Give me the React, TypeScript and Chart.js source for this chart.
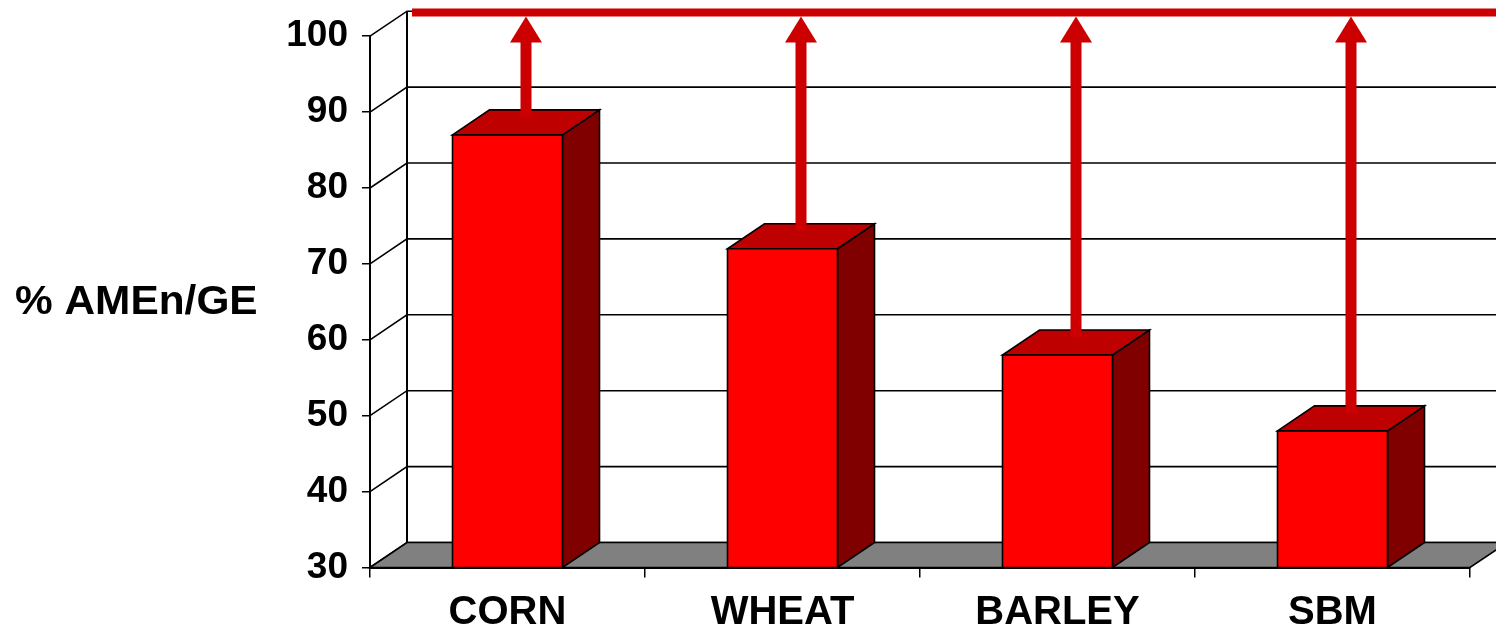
import React, { useEffect, useRef } from 'react';
import { Chart, registerables } from 'chart.js';

Chart.register(...registerables);

const categories = ['CORN', 'WHEAT', 'BARLEY', 'SBM'];
const amenPercent = [87, 72, 58, 48];
const axisMin = 30;
const axisMax = 100;
const axisStep = 10;
const targetPercent = 100;
const yAxisTitle = '% AMEn/GE';

const DX = 37;
const DY = -25;
const FONT = '"Liberation Sans", Arial, Helvetica, sans-serif';

const bars3d = {
  id: 'bars3d',
  beforeDatasetsDraw(chart: any) {
    const { ctx, chartArea: ca, scales } = chart;
    const ys = scales.y;
    ctx.save();
    ctx.strokeStyle = '#000';
    ctx.lineWidth = 1.6;
    for (let v = axisMin; v <= axisMax; v += axisStep) {
      const py = ys.getPixelForValue(v);
      ctx.beginPath();
      ctx.moveTo(ca.left, py);
      ctx.lineTo(ca.left + DX, py + DY);
      ctx.lineTo(chart.width + 60, py + DY);
      ctx.stroke();
    }
    ctx.beginPath();
    ctx.moveTo(ca.left + DX, ys.getPixelForValue(axisMin) + DY);
    ctx.lineTo(ca.left + DX, ys.getPixelForValue(axisMax) + DY);
    ctx.lineWidth = 2;
    ctx.stroke();
    const fb = ys.getPixelForValue(axisMin);
    ctx.beginPath();
    ctx.moveTo(ca.left, fb);
    ctx.lineTo(ca.right, fb);
    ctx.lineTo(ca.right + DX, fb + DY);
    ctx.lineTo(ca.left + DX, fb + DY);
    ctx.closePath();
    ctx.fillStyle = '#808080';
    ctx.fill();
    ctx.lineWidth = 1.6;
    ctx.stroke();
    ctx.restore();
  },
  afterDatasetsDraw(chart: any) {
    const { ctx, chartArea: ca, scales } = chart;
    const ys = scales.y;
    const meta = chart.getDatasetMeta(0);
    const redY = ys.getPixelForValue(targetPercent) + DY + 1.3;
    const floorY = ys.getPixelForValue(axisMin);
    ctx.save();
    ctx.lineJoin = 'miter';
    meta.data.forEach((el: any) => {
      const { x, y, width } = el.getProps(['x', 'y', 'width'], true);
      const base = floorY;
      const x0 = x - width / 2;
      const x1 = x + width / 2;
      ctx.lineWidth = 1.6;
      ctx.strokeStyle = '#000';
      ctx.beginPath();
      ctx.moveTo(x1, y);
      ctx.lineTo(x1 + DX, y + DY);
      ctx.lineTo(x1 + DX, base + DY);
      ctx.lineTo(x1, base);
      ctx.closePath();
      ctx.fillStyle = '#800000';
      ctx.fill();
      ctx.stroke();
      ctx.beginPath();
      ctx.moveTo(x0, y);
      ctx.lineTo(x1, y);
      ctx.lineTo(x1 + DX, y + DY);
      ctx.lineTo(x0 + DX, y + DY);
      ctx.closePath();
      ctx.fillStyle = '#BF0000';
      ctx.fill();
      ctx.stroke();
      ctx.beginPath();
      ctx.rect(x0, y, width, base - y);
      ctx.fillStyle = '#FF0000';
      ctx.fill();
      ctx.stroke();
      const ax = x + DX / 2;
      const tipY = redY + 4;
      const headBase = tipY + 26;
      ctx.fillStyle = '#CC0000';
      ctx.fillRect(ax - 5.5, headBase - 1, 11, y + DY / 2 - 4 - headBase);
      ctx.beginPath();
      ctx.moveTo(ax, tipY);
      ctx.lineTo(ax + 16, headBase);
      ctx.lineTo(ax - 16, headBase);
      ctx.closePath();
      ctx.fill();
    });
    ctx.beginPath();
    ctx.moveTo(ca.left + DX + 5, redY);
    ctx.lineTo(chart.width + 10, redY);
    ctx.strokeStyle = '#CC0000';
    ctx.lineWidth = 8;
    ctx.stroke();
    ctx.restore();
  },
  afterDraw(chart: any) {
    const { ctx } = chart;
    ctx.save();
    ctx.font = `bold 40px ${FONT}`;
    ctx.fillStyle = '#000';
    ctx.textBaseline = 'middle';
    ctx.textAlign = 'left';
    ctx.translate(15, 303);
    ctx.scale(1.06, 1);
    ctx.fillText(yAxisTitle, 0, 0);
    ctx.restore();
  },
};

export default function App() {
  const ref = useRef<HTMLCanvasElement | null>(null);
  useEffect(() => {
    if (!ref.current) return;
    const chart = new Chart(ref.current, {
      type: 'bar',
      data: {
        labels: categories,
        datasets: [
          {
            data: amenPercent,
            backgroundColor: 'rgba(0,0,0,0)',
            borderWidth: 0,
            barPercentage: 0.4,
            categoryPercentage: 1.0,
          },
        ],
      },
      options: {
        animation: false,
        responsive: false,
        events: [],
        layout: { padding: { top: 34.5, right: 26, left: 0, bottom: 0 } },
        plugins: { legend: { display: false }, tooltip: { enabled: false } },
        scales: {
          x: {
            afterFit: (s: any) => {
              s.height = 62.5;
            },
            grid: {
              offset: true,
              drawOnChartArea: false,
              tickLength: 10,
              color: '#000',
              lineWidth: 1.5,
            },
            border: { color: '#000', width: 2 },
            ticks: {
              color: '#000',
              font: { family: FONT, size: 40, weight: 'bold' },
              padding: 11,
            },
          },
          y: {
            min: axisMin,
            max: axisMax,
            afterFit: (s: any) => {
              s.width = 370;
            },
            grid: {
              drawOnChartArea: false,
              tickLength: 8,
              color: '#000',
              lineWidth: 1.5,
            },
            border: { color: '#000', width: 2 },
            ticks: {
              stepSize: axisStep,
              color: '#000',
              font: { family: FONT, size: 37, weight: 'bold' },
              padding: 14,
            },
          },
        },
      },
      plugins: [bars3d],
    });
    return () => chart.destroy();
  }, []);
  return (
    <div style={{ position: 'absolute', left: 0, top: 0, width: 1496, height: 630, background: '#fff' }}>
      <canvas ref={ref} width={1496} height={630} style={{ display: 'block' }} />
    </div>
  );
}
